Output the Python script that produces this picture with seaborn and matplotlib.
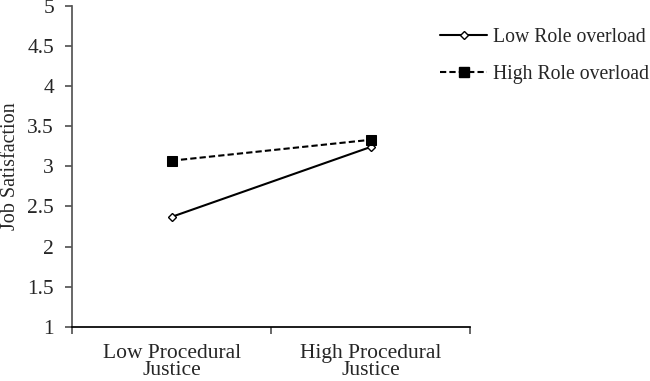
import numpy as np
import pandas as pd
import matplotlib
matplotlib.use("Agg")
import matplotlib.pyplot as plt
import seaborn as sns
from matplotlib.lines import Line2D

# data
justice = ["Low Procedural\nJustice", "High Procedural\nJustice"]
low_overload = [2.37, 3.24]
high_overload = [3.07, 3.33]
series = ["Low Role overload", "High Role overload"]

sns.set_theme(style="white")
plt.rcParams['font.family'] = ['Liberation Serif', 'DejaVu Serif']

pos = [0.5, 1.5]
low_df = pd.DataFrame({"pos": pos, "score": low_overload})
high_df = pd.DataFrame({"pos": pos, "score": high_overload})

fig = plt.figure(figsize=(6.5, 3.81), dpi=100)
ax = fig.add_axes([0.111, 0.142, 0.612, 0.843])

sns.lineplot(data=low_df, x="pos", y="score", color="black", linewidth=1.5,
             marker="D", markersize=4.5, markerfacecolor="white",
             markeredgecolor="black", markeredgewidth=1, ax=ax)
sns.lineplot(data=high_df, x="pos", y="score", color="black", linewidth=1.5,
             linestyle=(0, (3, 1.5)), marker="s", markersize=7,
             markeredgecolor="black", ax=ax)

ax.set_xlim(0, 2)
ax.set_ylim(1, 5)
ax.set_yticks(np.arange(1, 5.01, 0.5))
ax.set_yticklabels(["1", "1.5", "2", "2.5", "3", "3.5", "4", "4.5", "5"], fontsize=15.5)
ax.set_xticks([0, 1, 2])
ax.set_xticklabels([])
ax.set_xticks([0.5, 1.5], minor=True)
ax.set_xticklabels(justice, minor=True, fontsize=15.5, linespacing=0.9)
ax.tick_params(axis="x", which="minor", length=0, pad=12)
ax.tick_params(axis="x", which="major", length=5, direction="out", color="#555555", bottom=True)
ax.tick_params(axis="y", which="major", length=5, direction="out", color="#555555", left=True, pad=8)
ax.set_xlabel("")
ax.set_ylabel("Job Satisfaction", fontsize=14.5)
ax.yaxis.set_label_coords(-0.13, 0.5)

for s in ["top", "right"]:
    ax.spines[s].set_visible(False)
ax.spines["left"].set_color("#555555")
ax.spines["bottom"].set_color("black")

handles = [
    Line2D([], [], color="black", lw=1.5, marker="D", markerfacecolor="white",
           markeredgewidth=1, markersize=4.5),
    Line2D([], [], color="black", lw=1.5, ls=(0, (3, 1.5)), marker="s", markersize=7),
]
fig.legend(handles, series, loc="upper left", bbox_to_anchor=(0.677, 0.927),
           frameon=False, fontsize=14.2, handlelength=2.4, handletextpad=0.3,
           labelspacing=0.9, borderpad=0, borderaxespad=0)

fig.savefig("out.png", dpi=100)
